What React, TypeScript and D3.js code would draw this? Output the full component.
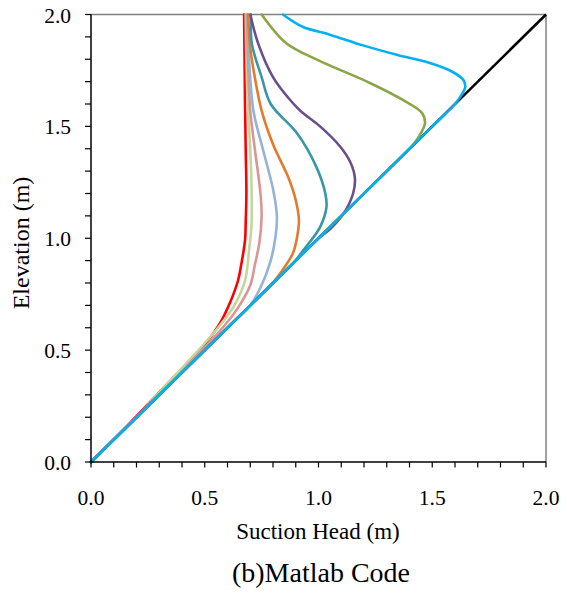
import React from "react";
import * as d3 from "d3";

// Suction head (m) vs elevation (m) profiles, listed from the top of the column down.
type Pt = [number, number];

const hydrostatic: Pt[] = [[0, 0], [2, 2]];

const profileRed: Pt[] = [
  [0.673, 2.0], [0.675, 1.8], [0.677, 1.6], [0.68, 1.4], [0.683, 1.2], [0.68, 1.07],
  [0.677, 0.99], [0.66, 0.88], [0.646, 0.81], [0.61, 0.71], [0.567, 0.62], [0.48, 0.5],
  [0.36, 0.375], [0.2, 0.205], [0.1, 0.1], [0, 0],
];
const profileLightGreen: Pt[] = [
  [0.68, 2.0], [0.683, 1.8], [0.69, 1.57], [0.7, 1.4], [0.706, 1.2], [0.705, 1.05],
  [0.695, 0.95], [0.677, 0.81], [0.63, 0.7], [0.55, 0.59], [0.45, 0.475], [0.3, 0.31],
  [0.2, 0.2], [0, 0],
];
const profilePink: Pt[] = [
  [0.685, 2.0], [0.69, 1.8], [0.7, 1.57], [0.72, 1.4], [0.745, 1.2], [0.75, 1.1],
  [0.74, 0.98], [0.72, 0.88], [0.7, 0.79], [0.64, 0.68], [0.57, 0.59], [0.45, 0.46],
  [0.35, 0.35], [0, 0],
];
const profileLightBlue: Pt[] = [
  [0.688, 2.0], [0.695, 1.8], [0.714, 1.57], [0.755, 1.4], [0.8, 1.22], [0.817, 1.1],
  [0.81, 1.0], [0.787, 0.89], [0.745, 0.78], [0.7, 0.7], [0.6, 0.6], [0, 0],
];
const profileOrange: Pt[] = [
  [0.69, 2.0], [0.7, 1.85], [0.72, 1.72], [0.75, 1.57], [0.8, 1.42], [0.868, 1.27],
  [0.9, 1.17], [0.914, 1.08], [0.905, 1.0], [0.888, 0.934], [0.84, 0.855], [0.79, 0.79],
  [0.7, 0.7], [0, 0],
];
const profileTeal: Pt[] = [
  [0.703, 2.0], [0.707, 1.87], [0.75, 1.72], [0.79, 1.6], [0.905, 1.47], [0.99, 1.32],
  [1.03, 1.2], [1.035, 1.14], [1.007, 1.05], [0.94, 0.955], [0.89, 0.89], [0.8, 0.8], [0, 0],
];
const profilePurple: Pt[] = [
  [0.7, 2.0], [0.735, 1.87], [0.8, 1.72], [0.865, 1.63], [0.92, 1.57], [1.007, 1.5],
  [1.095, 1.41], [1.14, 1.34], [1.16, 1.27], [1.152, 1.2], [1.11, 1.11], [1.05, 1.04],
  [1.0, 1.0], [0.9, 0.9], [0, 0],
];
const profileOlive: Pt[] = [
  [0.75, 2.0], [0.86, 1.87], [1.0, 1.795], [1.226, 1.694], [1.371, 1.618], [1.455, 1.56],
  [1.468, 1.515], [1.45, 1.47], [1.425, 1.43], [1.39, 1.39], [1.3, 1.3], [0, 0],
];
const profileCyan: Pt[] = [
  [0.844, 2.0], [0.93, 1.945], [1.05, 1.91], [1.196, 1.862], [1.344, 1.82], [1.49, 1.783],
  [1.59, 1.743], [1.637, 1.707], [1.645, 1.676], [1.625, 1.635], [1.6, 1.6], [1.5, 1.5], [0, 0],
];

const profiles: Pt[][] = [
  profileRed, profileLightGreen, profilePink, profileLightBlue, profileOrange,
  profileTeal, profilePurple, profileOlive, profileCyan,
];
const profileColors = [
  "#FF0000", "#C3D69B", "#D99694", "#95B3D7", "#E37B2B",
  "#3A95A8", "#6B4F8A", "#8BA54A", "#00B0F0",
];

const xTickLabels = ["0.0", "0.5", "1.0", "1.5", "2.0"];
const yTickLabels = ["0.0", "0.5", "1.0", "1.5", "2.0"];

const W = 567;
const H = 603;
const plot = { left: 91, right: 546, top: 14.5, bottom: 462 };
const FONT = "Liberation Serif";

export default function App() {
  const x = d3.scaleLinear().domain([0, 2]).range([plot.left, plot.right]);
  const y = d3.scaleLinear().domain([0, 2]).range([plot.bottom, plot.top]);
  const line = d3
    .line<Pt>()
    .x((d) => x(d[0]))
    .y((d) => y(d[1]))
    .curve(d3.curveCatmullRom.alpha(0.5));
  const straight = d3
    .line<Pt>()
    .x((d) => x(d[0]))
    .y((d) => y(d[1]));

  const minor = d3.range(0, 21).map((i) => i / 10);

  return (
    <svg
      width={W}
      height={H}
      style={{ position: "absolute", left: 0, top: 0, background: "#fff" }}
    >
      <rect x={0} y={0} width={W} height={H} fill="#fff" />

      {/* frame: top and right in grey */}
      <line x1={plot.left} x2={plot.right} y1={plot.top} y2={plot.top} stroke="#808080" strokeWidth={1.5} />
      <line x1={plot.right} x2={plot.right} y1={plot.top} y2={plot.bottom} stroke="#808080" strokeWidth={1.5} />

      {/* hydrostatic line */}
      <path d={straight(hydrostatic) ?? ""} fill="none" stroke="#000" strokeWidth={2.5} />

      {profiles.map((p, i) => (
        <path
          key={i}
          d={line(p) ?? ""}
          fill="none"
          stroke={profileColors[i]}
          strokeWidth={2.6}
          strokeLinejoin="round"
          strokeLinecap="round"
        />
      ))}

      {/* axes */}
      <line x1={plot.left} x2={plot.left} y1={plot.top} y2={plot.bottom} stroke="#000" strokeWidth={1.5} />
      <line x1={plot.left} x2={plot.right} y1={plot.bottom} y2={plot.bottom} stroke="#000" strokeWidth={1.5} />
      {minor.map((v) => (
        <line key={"xt" + v} x1={x(v)} x2={x(v)} y1={plot.bottom} y2={plot.bottom + 5.5} stroke="#000" strokeWidth={1.2} />
      ))}
      {minor.map((v) => (
        <line key={"yt" + v} x1={plot.left - 6} x2={plot.left} y1={y(v)} y2={y(v)} stroke="#000" strokeWidth={1.2} />
      ))}

      {xTickLabels.map((t) => (
        <text key={"xl" + t} x={x(+t)} y={505} textAnchor="middle" fontSize={21.5} fill="#000" fontFamily={FONT}>
          {t}
        </text>
      ))}
      {yTickLabels.map((t) => (
        <text key={"yl" + t} x={71} y={y(+t) + 8} textAnchor="end" fontSize={21.5} fill="#000" fontFamily={FONT}>
          {t}
        </text>
      ))}

      <text
        transform={`translate(29,243) rotate(-90)`}
        textAnchor="middle"
        fontSize={24}
        fill="#000"
        fontFamily={FONT}
      >
        Elevation (m)
      </text>
      <text x={318} y={539} textAnchor="middle" fontSize={23} fill="#000" fontFamily={FONT}>
        Suction Head (m)
      </text>
      <text x={321} y={582} textAnchor="middle" fontSize={28} fill="#000" fontFamily={FONT}>
        (b)Matlab Code
      </text>
    </svg>
  );
}
